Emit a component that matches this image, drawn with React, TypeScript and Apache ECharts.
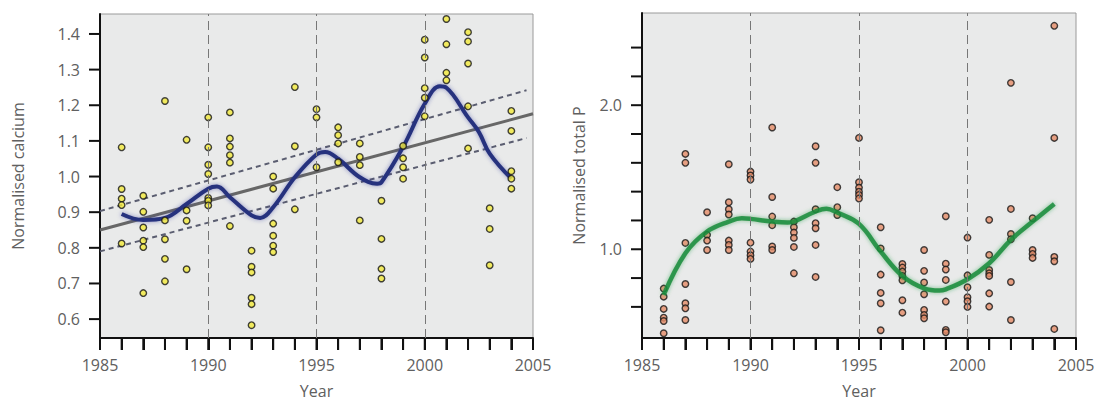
import React, { useEffect, useRef } from "react";
import * as echarts from "echarts";

// ---------- data ----------
const years = [1986, 1987, 1988, 1989, 1990, 1991, 1992, 1993, 1994, 1995, 1996, 1997, 1998, 1999, 2000, 2001, 2002, 2003, 2004];

const calcium: number[][] = [
  [1.082, 0.965, 0.938, 0.92, 0.812],
  [0.946, 0.901, 0.857, 0.82, 0.802, 0.673],
  [1.212, 0.877, 0.824, 0.769, 0.706],
  [1.103, 0.905, 0.876, 0.74],
  [1.166, 1.082, 1.033, 1.007, 0.94, 0.932, 0.919],
  [1.18, 1.107, 1.084, 1.06, 1.039, 0.861],
  [0.792, 0.747, 0.731, 0.66, 0.642, 0.583],
  [1.0, 0.966, 0.868, 0.834, 0.806, 0.788],
  [1.251, 1.085, 0.908],
  [1.189, 1.166, 1.026],
  [1.138, 1.116, 1.093, 1.04],
  [1.093, 1.055, 1.032, 0.877],
  [0.932, 0.825, 0.741, 0.714],
  [1.086, 1.051, 1.026, 0.994],
  [1.384, 1.334, 1.248, 1.221, 1.169],
  [1.442, 1.371, 1.291, 1.27],
  [1.405, 1.379, 1.317, 1.197, 1.079],
  [0.911, 0.853, 0.751],
  [1.184, 1.128, 1.015, 0.994, 0.966],
];

const caSmoothX = [1986, 1987, 1988, 1989, 1990, 1990.4, 1991, 1992, 1992.4, 1993, 1994, 1995, 1995.4, 1996, 1997, 1997.8, 1998, 1999, 2000, 2000.7, 2001, 2002, 2002.5, 2003, 2004];
const caSmoothY = [0.895, 0.878, 0.884, 0.923, 0.966, 0.972, 0.942, 0.891, 0.884, 0.914, 0.998, 1.062, 1.069, 1.05, 0.998, 0.98, 0.984, 1.083, 1.204, 1.253, 1.249, 1.166, 1.125, 1.064, 0.994];

const caTrendX = [1985, 2005];
const caTrendY = [0.85, 1.176];
const caUpperX = [1985, 2004.7];
const caUpperY = [0.903, 1.242];
const caLowerX = [1985, 2004.7];
const caLowerY = [0.79, 1.108];

const totalP: number[][] = [
  [0.727, 0.671, 0.586, 0.525, 0.502, 0.417],
  [1.662, 1.6, 1.044, 0.759, 0.625, 0.59, 0.509],
  [1.257, 1.1, 1.06, 0.995],
  [1.59, 1.326, 1.278, 1.241, 1.06, 1.03, 0.995],
  [1.539, 1.512, 1.484, 1.046, 0.984, 0.958, 0.933],
  [1.845, 1.363, 1.227, 1.167, 1.019, 0.995],
  [1.192, 1.153, 1.116, 1.079, 1.016, 0.833],
  [1.715, 1.6, 1.278, 1.181, 1.146, 1.03, 0.808],
  [1.431, 1.292, 1.238],
  [1.773, 1.465, 1.428, 1.4, 1.377, 1.352],
  [1.153, 1.005, 0.824, 0.697, 0.625, 0.438],
  [0.898, 0.873, 0.845, 0.815, 0.785, 0.646, 0.56],
  [0.995, 0.85, 0.769, 0.688, 0.579, 0.544, 0.521],
  [1.229, 0.9, 0.859, 0.787, 0.637, 0.44, 0.424],
  [1.081, 0.819, 0.736, 0.667, 0.639, 0.6],
  [1.204, 0.961, 0.856, 0.833, 0.815, 0.694, 0.602],
  [2.155, 1.28, 1.106, 1.069, 0.773, 0.509],
  [1.215, 0.995, 0.968, 0.94],
  [2.551, 1.773, 0.947, 0.917, 0.447],
];

const tpSmoothX = [1986, 1987, 1988, 1989, 1989.6, 1990, 1991, 1991.7, 1992, 1993, 1993.5, 1994, 1995, 1996, 1997, 1998, 1998.7, 1999, 2000, 2001, 2002, 2003, 2004];
const tpSmoothY = [0.683, 0.972, 1.123, 1.192, 1.215, 1.211, 1.192, 1.185, 1.192, 1.262, 1.282, 1.255, 1.176, 0.984, 0.815, 0.729, 0.713, 0.722, 0.792, 0.903, 1.065, 1.192, 1.315];

const xTickYears = [1985, 1986, 1987, 1988, 1989, 1990, 1991, 1992, 1993, 1994, 1995, 1996, 1997, 1998, 1999, 2000, 2001, 2002, 2003, 2004, 2005];
const refYears = [1990, 1995, 2000];
const caTicks = [0.6, 0.7, 0.8, 0.9, 1.0, 1.1, 1.2, 1.3, 1.4];
const tpTicks = [0.6, 0.8, 1.0, 1.2, 1.4, 1.6, 1.8, 2.0, 2.2, 2.4];
const tpLabels = [1.0, 2.0];

const caYMin = 0.547;
const caYMax = 1.456;
const tpYMin = 0.384;
const tpYMax = 2.64;

const pairs = (xs: number[], ys: number[]) => xs.map((x, i) => [x, ys[i]]);
const flatten = (groups: number[][]) => {
  const out: number[][] = [];
  groups.forEach((g, i) => g.forEach((v) => out.push([years[i], v])));
  return out;
};

const FONT = "'Open Sans', 'Noto Sans', sans-serif";
const TEXT = "#606060";

export default function App() {
  const ref = useRef<HTMLDivElement>(null);
  useEffect(() => {
    if (!ref.current) return;
    const chart = echarts.init(ref.current, undefined, { renderer: "svg" });

    const xAxisBase = (gridIndex: number) => ({
      type: "value",
      gridIndex,
      min: 1985,
      max: 2005,
      interval: 1,
      name: "Year",
      nameLocation: "middle",
      nameGap: 45,
      nameTextStyle: { color: TEXT, fontSize: 16, fontFamily: FONT },
      axisLine: { show: true, onZero: false, lineStyle: { color: "#111", width: 2 } },
      axisTick: { show: true, inside: false, length: 12, lineStyle: { color: "#111", width: 2 } },
      axisLabel: {
        color: TEXT, fontSize: 16, fontFamily: FONT, margin: 19,
        formatter: (v: number) => (Math.round(v) % 5 === 0 ? String(Math.round(v)) : ""),
      },
      splitLine: { show: false },
    });

    const refLines = {
      symbol: "none",
      silent: true,
      label: { show: false },
      lineStyle: { type: [9, 5], color: "#777", width: 1 },
      data: refYears.map((y) => ({ xAxis: y })),
    };

    const option: any = {
      animation: false,
      grid: [
        { left: 100, right: 577, top: 14, bottom: 67, show: true, backgroundColor: "#e9eaea", borderColor: "#9a9a9a", borderWidth: 1 },
        { left: 642, right: 34, top: 13, bottom: 67, show: true, backgroundColor: "#e9eaea", borderColor: "#9a9a9a", borderWidth: 1 },
      ],
      xAxis: [xAxisBase(0), xAxisBase(1)],
      yAxis: [
        {
          type: "value",
          gridIndex: 0,
          min: caYMin,
          max: caYMax,
          name: "Normalised calcium",
          nameLocation: "middle",
          nameGap: 74,
          nameTextStyle: { color: TEXT, fontSize: 16, fontFamily: FONT },
          axisLine: { show: true, onZero: false, lineStyle: { color: "#111", width: 2 } },
          axisTick: { show: false },
          axisLabel: { color: TEXT, fontSize: 16, fontFamily: FONT, margin: 20, customValues: caTicks, formatter: (v: number) => v.toFixed(1) },
          splitLine: { show: false },
        },
        {
          type: "value",
          gridIndex: 1,
          min: tpYMin,
          max: tpYMax,
          name: "Normalised total P",
          nameLocation: "middle",
          nameGap: 55,
          nameTextStyle: { color: TEXT, fontSize: 16, fontFamily: FONT },
          axisLine: { show: true, onZero: false, lineStyle: { color: "#111", width: 2 } },
          axisTick: { show: false },
          axisLabel: { color: TEXT, fontSize: 16, fontFamily: FONT, margin: 20, customValues: tpLabels, formatter: (v: number) => v.toFixed(1) },
          splitLine: { show: false },
        },
      ],
      series: [
        {
          type: "line", xAxisIndex: 0, yAxisIndex: 0, data: pairs(caTrendX, caTrendY), symbol: "none",
          lineStyle: { color: "#676767", width: 3 }, z: 2,
          markLine: refLines,
        },
        {
          type: "line", xAxisIndex: 0, yAxisIndex: 0, data: pairs(caUpperX, caUpperY), symbol: "none",
          lineStyle: { color: "#5a5d70", width: 2, type: [5, 4] }, z: 2,
        },
        {
          type: "line", xAxisIndex: 0, yAxisIndex: 0, data: pairs(caLowerX, caLowerY), symbol: "none",
          lineStyle: { color: "#5a5d70", width: 2, type: [5, 4] }, z: 2,
        },
        {
          type: "line", xAxisIndex: 0, yAxisIndex: 0, data: pairs(caSmoothX, caSmoothY), symbol: "none", smooth: 0.4,
          lineStyle: { color: "#27317e", width: 4, shadowBlur: 4, shadowColor: "rgba(40,50,150,0.5)" }, z: 3,
        },
        {
          type: "scatter", xAxisIndex: 0, yAxisIndex: 0, data: flatten(calcium), symbol: "circle", symbolSize: 6.5,
          itemStyle: { color: "#f2ea3c", borderColor: "#151515", borderWidth: 1.4 }, z: 4,
        },
        {
          type: "scatter", xAxisIndex: 1, yAxisIndex: 1, data: flatten(totalP), symbol: "circle", symbolSize: 6.5,
          itemStyle: { color: "#e58c68", borderColor: "#151515", borderWidth: 1.4 }, z: 3,
          markLine: refLines,
        },
        {
          type: "line", xAxisIndex: 1, yAxisIndex: 1, data: pairs(tpSmoothX, tpSmoothY), symbol: "none", smooth: 0.4,
          lineStyle: { color: "#1a8c3c", width: 4.5, opacity: 0.85, shadowBlur: 4, shadowColor: "rgba(30,150,60,0.6)" }, z: 4,
        },
      ],
    };
    chart.setOption(option);

    // tick marks placed through the axes' own scales, added straight to the zrender layer
    const zr = chart.getZr();
    const addRect = (x: number, y: number, w: number, h: number) => {
      if (!isFinite(x) || !isFinite(y)) return;
      zr.add(new (echarts.graphic as any).Rect({ shape: { x, y, width: w, height: h }, style: { fill: "#111" }, z: 1000, zlevel: 0 }));
    };
    const toPx = (gi: number, v: number[]) => {
      const p = chart.convertToPixel({ xAxisIndex: gi, yAxisIndex: gi } as any, v) as number[];
      return p || [NaN, NaN];
    };
    [[0, caTicks], [1, tpTicks]].forEach(([gi, ticks]: any) =>
      ticks.forEach((v: number) => {
        const p = toPx(gi, [1985, v]);
        addRect(p[0] - 11, p[1] - 1, 11, 2);
      })
    );
    [[0, caYMin], [1, tpYMin]].forEach(([gi, yMin]: any) =>
      xTickYears.forEach((yr) => {
        const p = toPx(gi, [yr, yMin]);
        addRect(p[0] - 1, p[1], 2, 12);
      })
    );

    return () => chart.dispose();
  }, []);

  return <div ref={ref} style={{ position: "fixed", left: 0, top: 0, width: 1110, height: 405, background: "#fff" }} />;
}
